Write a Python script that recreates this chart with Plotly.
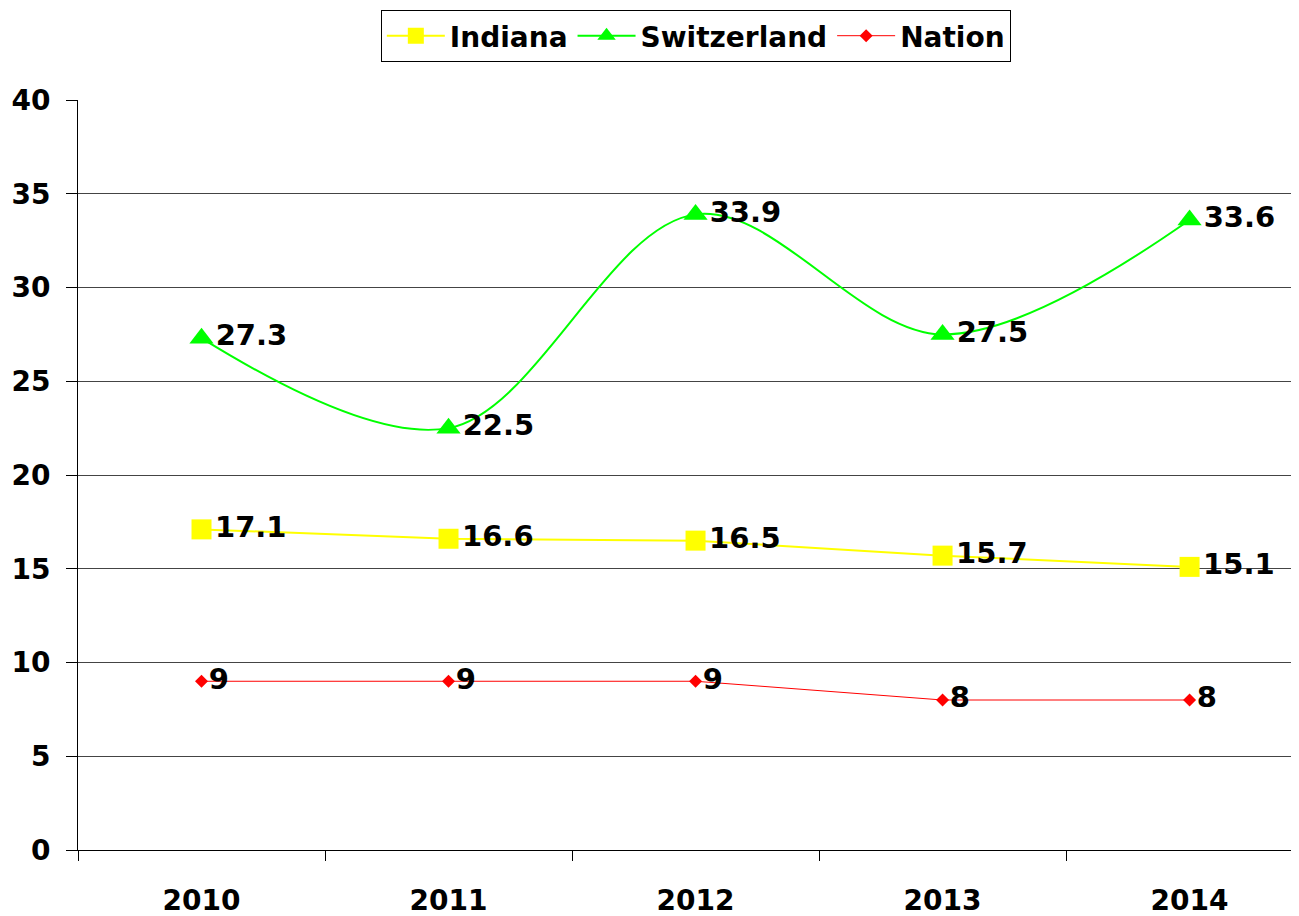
import plotly.graph_objects as go

years = ["2010", "2011", "2012", "2013", "2014"]
indiana = [17.1, 16.6, 16.5, 15.7, 15.1]
switzerland = [27.3, 22.5, 33.9, 27.5, 33.6]
nation = [9, 9, 9, 8, 8]
y_ticks = [0, 5, 10, 15, 20, 25, 30, 35, 40]

FONT = "DejaVu Sans"
tf = dict(family=FONT, size=28, color="black", weight="bold")
lf = dict(family=FONT, size=29, color="black", weight="bold")

fig = go.Figure()
fig.add_trace(go.Scatter(
    x=years, y=indiana, name="Indiana", mode="lines+markers+text",
    line=dict(color="#FFFF00", width=2),
    marker=dict(symbol="square", size=20, color="#FFFF00"),
    text=[str(v) for v in indiana], textposition="middle right",
    textfont=lf,
))
fig.add_trace(go.Scatter(
    x=years, y=switzerland, name="Switzerland", mode="lines+markers+text",
    line=dict(color="#00FF00", width=2, shape="spline", smoothing=1),
    marker=dict(symbol="triangle-up", size=21, color="#00FF00"),
    text=[str(v) for v in switzerland], textposition="middle right",
    textfont=lf,
))
fig.add_trace(go.Scatter(
    x=years, y=nation, name="Nation", mode="lines+markers+text",
    line=dict(color="#FF0000", width=1),
    marker=dict(symbol="diamond", size=10, color="#FF0000"),
    text=[str(v) for v in nation], textposition="middle right",
    textfont=lf,
))

fig.update_layout(
    width=1299, height=916,
    margin=dict(l=70, r=8, t=92, b=74, autoexpand=False),
    paper_bgcolor="white", plot_bgcolor="white",
    font=tf,
    showlegend=True,
    legend=dict(orientation="h", x=0.506, xanchor="center", y=1.12, yanchor="top",
                bordercolor="black", borderwidth=1, bgcolor="white",
                font=tf, itemsizing="trace", itemwidth=58),
    xaxis=dict(type="category", range=[-0.5, 4.443], tickson="boundaries",
               ticks="outside", ticklen=10, tickcolor="black", automargin=False,
               showline=True, linecolor="black", linewidth=1,
               showgrid=False, zeroline=False, ticklabelstandoff=25,
               tickfont=tf),
    yaxis=dict(range=[0, 40], tickvals=y_ticks, ticks="outside", ticklen=11,
               tickcolor="black", showline=True, linecolor="black", linewidth=1,
               automargin=False, ticklabelstandoff=10,
               showgrid=True, gridcolor="#444444", gridwidth=1, zeroline=False,
               tickfont=tf),
)

fig.write_html("out.html")
